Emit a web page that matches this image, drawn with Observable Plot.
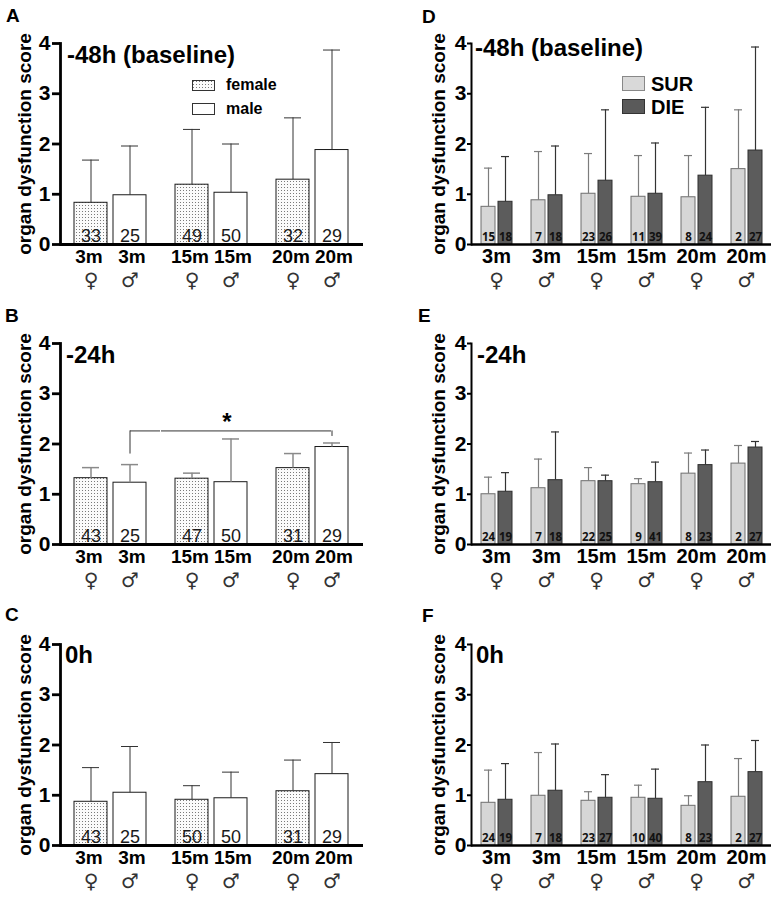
<!DOCTYPE html>
<html>
<head>
<meta charset="utf-8">
<script src="https://cdn.jsdelivr.net/npm/d3@7"></script>
<script src="https://cdn.jsdelivr.net/npm/@observablehq/plot@0.6"></script>
<style>
  body { margin: 0; background: #fff; font-family: "Liberation Sans", Arial, sans-serif; }
  #fig { position: relative; width: 778px; height: 902px; overflow: hidden; background: #fff; }
  .panel { position: absolute; width: 389px; height: 300px; }
  .panel svg.plot { position: absolute; left: 0; top: 0; overflow: visible; }
  .letter { position: absolute; font-weight: bold; font-size: 19px; line-height: 19px; color: #000; }
  .ptitle { position: absolute; font-weight: bold; font-size: 24px; line-height: 24px; white-space: nowrap; color: #000; }
  .lg { position: absolute; font-weight: bold; white-space: nowrap; color: #000; }
  .sw { position: absolute; }
</style>
</head>
<body>
<svg width="0" height="0" style="position:absolute">
  <defs>
    <pattern id="dots" width="3" height="3" patternUnits="userSpaceOnUse">
      <rect width="3" height="3" fill="#fbfbfb"></rect>
      <rect x="1" y="1" width="1" height="1" fill="#7a7a7a"></rect>
    </pattern>
  </defs>
</svg>
<div id="fig"></div>
<script>
// ---------- data ----------
const ages = ["3m", "15m", "20m"];
const sexes = ["female", "male"];
const sexSymbols = ["♀", "♂"];
const yTicks = [0, 1, 2, 3, 4];
const yLabel = "organ dysfunction score";

// Panels A–C (order: 3m♀, 3m♂, 15m♀, 15m♂, 20m♀, 20m♂)
const aMean  = [0.83, 0.98, 1.19, 1.03, 1.29, 1.88];
const aUpper = [1.68, 1.96, 2.29, 2.00, 2.52, 3.87];
const aN     = [33, 25, 49, 50, 32, 29];

const bMean  = [1.32, 1.23, 1.31, 1.24, 1.52, 1.94];
const bUpper = [1.53, 1.59, 1.42, 2.10, 1.81, 2.02];
const bN     = [43, 25, 47, 50, 31, 29];

const cMean  = [0.87, 1.05, 0.91, 0.94, 1.08, 1.42];
const cUpper = [1.55, 1.97, 1.19, 1.46, 1.70, 2.05];
const cN     = [43, 25, 50, 50, 31, 29];

// significance bracket in panel B (3m ♂ vs 20m ♂)
const sigFrom = {age: "3m", sex: "male"};
const sigTo = {age: "20m", sex: "male"};
const sigSpan = ["15m"];
const sigY = 2.26, sigFromBase = 1.80, sigToBase = 2.15, sigStarY = 2.43;

// Panels D–F
const groupAges  = ["3m", "3m", "15m", "15m", "20m", "20m"];
const groupSexes = ["female", "male", "female", "male", "female", "male"];
const outcomes = ["SUR", "DIE"];

const dSurMean  = [0.75, 0.88, 1.01, 0.95, 0.94, 1.50];
const dSurUpper = [1.52, 1.85, 1.81, 1.77, 1.77, 2.68];
const dSurN     = [15, 7, 23, 11, 8, 2];
const dDieMean  = [0.85, 0.98, 1.27, 1.01, 1.37, 1.87];
const dDieUpper = [1.75, 1.96, 2.68, 2.02, 2.73, 3.93];
const dDieN     = [18, 18, 26, 39, 24, 27];

const eSurMean  = [1.00, 1.12, 1.26, 1.20, 1.41, 1.61];
const eSurUpper = [1.34, 1.70, 1.53, 1.31, 1.82, 1.97];
const eSurN     = [24, 7, 22, 9, 8, 2];
const eDieMean  = [1.05, 1.28, 1.26, 1.24, 1.58, 1.93];
const eDieUpper = [1.43, 2.24, 1.38, 1.64, 1.88, 2.05];
const eDieN     = [19, 18, 25, 41, 23, 27];

const fSurMean  = [0.85, 0.99, 0.89, 0.95, 0.79, 0.97];
const fSurUpper = [1.50, 1.85, 1.07, 1.20, 0.99, 1.73];
const fSurN     = [24, 7, 23, 10, 8, 2];
const fDieMean  = [0.91, 1.09, 0.95, 0.93, 1.26, 1.46];
const fDieUpper = [1.63, 2.02, 1.41, 1.52, 2.00, 2.09];
const fDieN     = [19, 18, 27, 40, 23, 27];

// ---------- helpers ----------
const FONT = "'Liberation Sans', Arial, Helvetica, sans-serif";
const fig = document.getElementById("fig");
const sym = s => sexSymbols[sexes.indexOf(s)];

function addPanel(left, top, svg, overlayHTML) {
  const div = document.createElement("div");
  div.className = "panel";
  div.style.left = left + "px";
  div.style.top = top + "px";
  svg.classList.add("plot");
  div.appendChild(svg);
  div.insertAdjacentHTML("beforeend", overlayHTML);
  fig.appendChild(div);
}

function yAxes(tickSize, tickPadding, axisWidth, labelOffset) {
  return [
    Plot.axisY({ticks: yTicks, tickFormat: d => String(d), tickSize, tickPadding, strokeWidth: axisWidth, fontSize: 21, fontWeight: "bold", label: null}),
    Plot.axisY({ticks: [], tickSize: 0, label: yLabel, labelAnchor: "center", labelOffset, labelArrow: "none", fontSize: 19, fontWeight: "bold"}),
    Plot.frame({anchor: "left", facetAnchor: "left", stroke: "#000", strokeWidth: axisWidth})
  ];
}

// ---------- panels A–C ----------
function sexPanel({mean, upper, n, errColor, errWidth, sig}) {
  const data = ages.flatMap((a, i) => sexes.map((s, j) => ({
    age: a, sex: s, mean: mean[i * 2 + j], upper: upper[i * 2 + j], n: n[i * 2 + j]
  })));
  const isF = d => d.sex === "female";
  const isM = d => d.sex === "male";
  const lab = {fx: "age", x: "sex", text: "age", frameAnchor: "bottom", dy: 18, fontSize: 19, fontWeight: "bold", fill: "#000"};
  const marks = [
    Plot.barY(data, {fx: "age", x: "sex", y: "mean", fill: "sex", stroke: "#1a1a1a", strokeWidth: 1}),
    Plot.ruleX(data, {fx: "age", x: "sex", y1: "mean", y2: "upper", stroke: errColor, strokeWidth: errWidth}),
    Plot.tickY(data, {fx: "age", x: "sex", y: "upper", stroke: errColor, strokeWidth: errWidth, insetLeft: 8, insetRight: 8}),
    Plot.text(data, {fx: "age", x: "sex", text: "n", frameAnchor: "bottom", lineAnchor: "bottom", dy: -3, fontSize: 18, fill: "#1a1a1a"}),
    Plot.ruleY([0], {stroke: "#000", strokeWidth: 2.8}),
    Plot.text(data, {...lab, filter: isF, dx: -2}),
    Plot.text(data, {...lab, filter: isM, dx: 2}),
    Plot.text(data, {fx: "age", x: "sex", text: d => sym(d.sex), frameAnchor: "bottom", dy: 42, fontSize: 20, fontFamily: "DejaVu Sans", fill: "#333"}),
    ...yAxes(8, 2, 2.8, 43)
  ];
  if (sig) {
    const st = {stroke: "#333", strokeWidth: 1};
    marks.push(
      Plot.ruleX([sigFrom], {fx: "age", x: "sex", y1: () => sigFromBase, y2: () => sigY, ...st}),
      Plot.ruleX([sigTo], {fx: "age", x: "sex", y1: () => sigToBase, y2: () => sigY, ...st}),
      // left piece: from 3m ♂ bar centre to the facet's right edge
      Plot.ruleY([sigFrom], {fx: "age", x1: "sex", x2: "sex", y: () => sigY, insetLeft: 17, insetRight: -14, ...st}),
      // middle piece: the whole 15m facet
      Plot.ruleY(sigSpan, {fx: d => d, y: () => sigY, ...st}),
      // right piece: from the facet's left edge to the 20m ♂ bar centre
      Plot.ruleY([sigTo], {fx: "age", x1: () => "female", x2: "sex", y: () => sigY, insetLeft: -14, insetRight: 17, ...st}),
      Plot.text([{age: sigSpan[0], sex: "male"}], {fx: "age", x: "sex", y: () => sigStarY, text: () => "*", dx: -4, fontSize: 24, fontWeight: "bold", fill: "#000"})
    );
  }
  return Plot.plot({
    width: 389, height: 300,
    marginLeft: 60, marginRight: 26, marginTop: 43, marginBottom: 56,
    style: {fontFamily: FONT, color: "#000", background: "transparent", overflow: "visible"},
    fx: {domain: ages, axis: null, paddingInner: 0, paddingOuter: 0},
    x: {domain: sexes, axis: null, paddingInner: 0.15, paddingOuter: 0.34},
    y: {domain: [0, 4], axis: null},
    color: {domain: sexes, range: ["url(#dots)", "#ffffff"]},
    marks
  });
}

// ---------- panels D–F ----------
function outcomePanel({surMean, surUpper, surN, dieMean, dieUpper, dieN}) {
  const groups = groupAges.map((a, i) => a + " " + groupSexes[i]);
  const data = groups.flatMap((g, i) => [
    {group: g, outcome: "SUR", mean: surMean[i], upper: surUpper[i], n: surN[i]},
    {group: g, outcome: "DIE", mean: dieMean[i], upper: dieUpper[i], n: dieN[i]}
  ]);
  const gData = groups.map((g, i) => ({group: g, age: groupAges[i], sex: groupSexes[i]}));
  const isSur = d => d.outcome === "SUR";
  const isDie = d => d.outcome === "DIE";
  const marks = [
    Plot.barY(data, {filter: isSur, fx: "group", x: "outcome", y: "mean", fill: "outcome", stroke: "#6e6e6e", strokeWidth: 1}),
    Plot.barY(data, {filter: isDie, fx: "group", x: "outcome", y: "mean", fill: "outcome", stroke: "#2e2e2e", strokeWidth: 1}),
    Plot.ruleX(data, {filter: isSur, fx: "group", x: "outcome", y1: "mean", y2: "upper", stroke: "#7c7c7c", strokeWidth: 1.2}),
    Plot.tickY(data, {filter: isSur, fx: "group", x: "outcome", y: "upper", stroke: "#7c7c7c", strokeWidth: 1.2, insetLeft: 3, insetRight: 3}),
    Plot.ruleX(data, {filter: isDie, fx: "group", x: "outcome", y1: "mean", y2: "upper", stroke: "#333", strokeWidth: 1.2}),
    Plot.tickY(data, {filter: isDie, fx: "group", x: "outcome", y: "upper", stroke: "#333", strokeWidth: 1.2, insetLeft: 3, insetRight: 3}),
    Plot.text(data, {fx: "group", x: "outcome", text: "n", frameAnchor: "bottom", lineAnchor: "bottom", dy: -4, fontSize: 11.5, fontWeight: "bold", fontFamily: "'Open Sans', sans-serif", fill: "#111"}),
    Plot.ruleY([0], {stroke: "#000", strokeWidth: 2.4}),
    Plot.text(gData, {fx: "group", text: "age", frameAnchor: "bottom", dy: 18, fontSize: 20, fontWeight: "bold", fill: "#000"}),
    Plot.text(gData, {fx: "group", text: d => sym(d.sex), frameAnchor: "bottom", dy: 42, fontSize: 20, fontFamily: "DejaVu Sans", fill: "#333"}),
    ...yAxes(4, 1, 2, 40)
  ];
  return Plot.plot({
    width: 389, height: 300,
    marginLeft: 80, marginRight: 8, marginTop: 43, marginBottom: 56,
    style: {fontFamily: FONT, color: "#000", background: "transparent", overflow: "visible"},
    fx: {domain: groups, axis: null, paddingInner: 0, paddingOuter: 0},
    x: {domain: outcomes, axis: null, paddingInner: 0.18, paddingOuter: 0.56},
    y: {domain: [0, 4], axis: null},
    color: {domain: outcomes, range: ["#d6d6d6", "#5c5c5c"]},
    marks
  });
}

// ---------- overlays ----------
const letter = (t, x, y) => `<div class="letter" style="left:${x}px;top:${y}px">${t}</div>`;
const title = (t, x, y) => `<div class="ptitle" style="left:${x}px;top:${y}px">${t}</div>`;
const swatch = (x, y, w, h, fill, stroke) =>
  `<svg class="sw" style="left:${x}px;top:${y}px" width="${w + 2}" height="${h + 2}"><rect x="0.5" y="0.5" width="${w}" height="${h}" fill="${fill}" stroke="${stroke}" stroke-width="1"></rect></svg>`;
const lgText = (t, x, y, size) => `<div class="lg" style="left:${x}px;top:${y}px;font-size:${size}px;line-height:${size}px">${t}</div>`;

const legendSex =
  swatch(192, 80, 22, 10, "url(#dots)", "#333") + lgText("female", 226, 77, 16) +
  swatch(192, 103, 22, 11, "#fff", "#333") + lgText("male", 226, 101, 16);
const legendOutcome =
  swatch(232, 76, 22, 14, "#d9d9d9", "#888") + lgText("SUR", 261, 74, 20) +
  swatch(232, 99, 22, 14, "#5a5a5a", "#333") + lgText("DIE", 261, 97, 20);

addPanel(0, 0, sexPanel({mean: aMean, upper: aUpper, n: aN, errColor: "#333", errWidth: 1}),
  letter("A", 6, 6) + title("-48h (baseline)", 67, 43) + legendSex);
addPanel(0, 300, sexPanel({mean: bMean, upper: bUpper, n: bN, errColor: "#8a8a8a", errWidth: 1.5, sig: true}),
  letter("B", 5, 6) + title("-24h", 66, 43));
addPanel(0, 601, sexPanel({mean: cMean, upper: cUpper, n: cN, errColor: "#333", errWidth: 1}),
  letter("C", 5, 4) + title("0h", 65, 42));

addPanel(390, 0, outcomePanel({surMean: dSurMean, surUpper: dSurUpper, surN: dSurN, dieMean: dDieMean, dieUpper: dDieUpper, dieN: dDieN}),
  letter("D", 32, 7) + title("-48h (baseline)", 85, 36) + legendOutcome);
addPanel(390, 300, outcomePanel({surMean: eSurMean, surUpper: eSurUpper, surN: eSurN, dieMean: eDieMean, dieUpper: eDieUpper, dieN: eDieN}),
  letter("E", 28, 6) + title("-24h", 87, 43));
addPanel(390, 601, outcomePanel({surMean: fSurMean, surUpper: fSurUpper, surN: fSurN, dieMean: fDieMean, dieUpper: fDieUpper, dieN: fDieN}),
  letter("F", 32, 5) + title("0h", 86, 42));
</script>
</body>
</html>
